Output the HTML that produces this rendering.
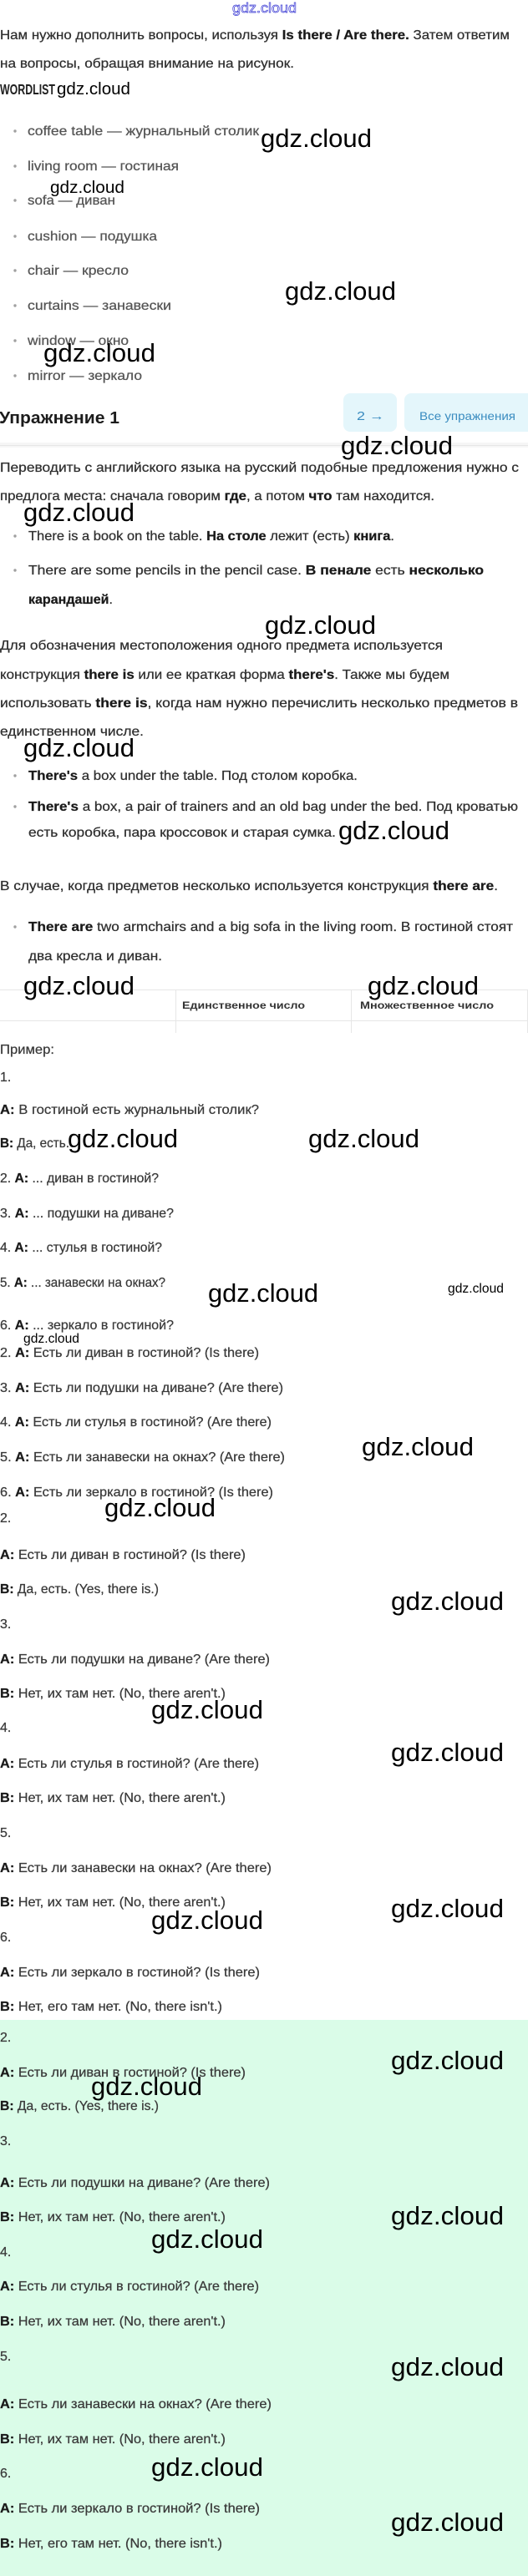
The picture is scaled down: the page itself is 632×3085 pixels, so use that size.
<!DOCTYPE html>
<html lang="ru">
<head>
<meta charset="utf-8">
<title>Упражнение 1</title>
<style>
html,body{margin:0;padding:0;background:#fff;}
body{width:632px;height:3085px;overflow:hidden;}
svg{display:block;font-family:"Liberation Sans","DejaVu Sans",sans-serif;}
.p{font-size:16px;fill:#2f2f2f;stroke:#2f2f2f;stroke-width:0.25px;}
.g{font-size:16px;fill:#555;stroke:#555;stroke-width:0.25px;}
.q{font-size:16px;fill:#3a3a3a;stroke:#3a3a3a;stroke-width:0.25px;}
.b{font-weight:bold;fill:#1a1a1a;stroke:#1a1a1a;}
.wm{font-size:31px;fill:#000;}
.ws{font-size:20.5px;fill:#000;}
.wt{font-size:15.6px;fill:#000;}
.dot{fill:#a0a0a0;}
</style>
</head>
<body>
<svg width="632" height="3085" viewBox="0 0 632 3085" xmlns="http://www.w3.org/2000/svg">
<rect x="0" y="0" width="632" height="3085" fill="#fff"/>
<!-- green answer block -->
<rect x="0" y="2419" width="632" height="666" fill="#dafce8"/>

<!-- top logo -->
<text x="278" y="15" font-size="17" fill="none" stroke="#3c3cd4" stroke-width="0.7" textLength="77" lengthAdjust="spacingAndGlyphs">gdz.cloud</text>

<!-- intro -->
<text class="p" x="0" y="47" textLength="610" lengthAdjust="spacingAndGlyphs">Нам нужно дополнить вопросы, используя <tspan class="b">Is there / Are there.</tspan> Затем ответим</text>
<text class="p" x="0" y="81" textLength="352" lengthAdjust="spacingAndGlyphs">на вопросы, обращая внимание на рисунок.</text>
<text x="0" y="113" font-size="17.5" font-weight="bold" fill="#222" textLength="66" lengthAdjust="spacingAndGlyphs">WORDLIST</text>

<!-- wordlist -->
<circle class="dot" cx="18" cy="157" r="1.7"/>
<text class="g" x="33" y="162" textLength="277" lengthAdjust="spacingAndGlyphs">coffee table — журнальный столик</text>
<circle class="dot" cx="18" cy="199" r="1.7"/>
<text class="g" x="33" y="204" textLength="181" lengthAdjust="spacingAndGlyphs">living room — гостиная</text>
<circle class="dot" cx="18" cy="240" r="1.7"/>
<text class="g" x="33" y="245" textLength="105" lengthAdjust="spacingAndGlyphs">sofa — диван</text>
<circle class="dot" cx="18" cy="283" r="1.7"/>
<text class="g" x="33" y="288" textLength="155" lengthAdjust="spacingAndGlyphs">cushion — подушка</text>
<circle class="dot" cx="18" cy="324" r="1.7"/>
<text class="g" x="33" y="329" textLength="121" lengthAdjust="spacingAndGlyphs">chair — кресло</text>
<circle class="dot" cx="18" cy="366" r="1.7"/>
<text class="g" x="33" y="371" textLength="172" lengthAdjust="spacingAndGlyphs">curtains — занавески</text>
<circle class="dot" cx="18" cy="408" r="1.7"/>
<text class="g" x="33" y="413" textLength="121" lengthAdjust="spacingAndGlyphs">window — окно</text>
<circle class="dot" cx="18" cy="450" r="1.7"/>
<text class="g" x="33" y="455" textLength="137" lengthAdjust="spacingAndGlyphs">mirror — зеркало</text>

<!-- heading + buttons -->
<text x="-1" y="507" font-size="20" font-weight="bold" fill="#1c1c1c" textLength="144" lengthAdjust="spacingAndGlyphs">Упражнение 1</text>
<rect x="411" y="471" width="64" height="46" rx="8" fill="#e4f6fb"/>
<rect x="484" y="471" width="156" height="46" rx="8" fill="#e4f6fb"/>
<text x="427" y="503" font-size="15" fill="#3a8cc0" textLength="33" lengthAdjust="spacingAndGlyphs">2 →</text>
<text x="502" y="503" font-size="14" fill="#3a8cc0" textLength="115" lengthAdjust="spacingAndGlyphs">Все упражнения</text>

<!-- divider -->
<rect x="0" y="530" width="632" height="6" fill="#f6f6f6"/>
<rect x="0" y="533" width="632" height="1" fill="#e6e6e6"/>

<!-- grammar -->
<text class="p" x="0" y="565" textLength="621" lengthAdjust="spacingAndGlyphs">Переводить с английского языка на русский подобные предложения нужно с</text>
<text class="p" x="0" y="599" textLength="520" lengthAdjust="spacingAndGlyphs">предлога места: сначала говорим <tspan class="b">где</tspan>, а потом <tspan class="b">что</tspan> там находится.</text>
<circle class="dot" cx="18" cy="642" r="1.7"/>
<text class="p" x="34" y="647" textLength="438" lengthAdjust="spacingAndGlyphs">There is a book on the table. <tspan class="b">На столе</tspan> лежит (есть) <tspan class="b">книга</tspan>.</text>
<circle class="dot" cx="18" cy="683" r="1.7"/>
<text class="p" x="34" y="688" textLength="545" lengthAdjust="spacingAndGlyphs">There are some pencils in the pencil case. <tspan class="b">В пенале</tspan> есть <tspan class="b">несколько</tspan></text>
<text class="p" x="34" y="723" textLength="101" lengthAdjust="spacingAndGlyphs"><tspan class="b">карандашей</tspan>.</text>
<text class="p" x="0" y="778" textLength="530" lengthAdjust="spacingAndGlyphs">Для обозначения местоположения одного предмета используется</text>
<text class="p" x="0" y="813" textLength="538" lengthAdjust="spacingAndGlyphs">конструкция <tspan class="b">there is</tspan> или ее краткая форма <tspan class="b">there's</tspan>. Также мы будем</text>
<text class="p" x="0" y="847" textLength="620" lengthAdjust="spacingAndGlyphs">использовать <tspan class="b">there is</tspan>, когда нам нужно перечислить несколько предметов в</text>
<text class="p" x="0" y="881" textLength="172" lengthAdjust="spacingAndGlyphs">единственном числе.</text>
<circle class="dot" cx="18" cy="929" r="1.7"/>
<text class="p" x="34" y="934" textLength="394" lengthAdjust="spacingAndGlyphs"><tspan class="b">There's</tspan> a box under the table. Под столом коробка.</text>
<circle class="dot" cx="18" cy="966" r="1.7"/>
<text class="p" x="34" y="971" textLength="586" lengthAdjust="spacingAndGlyphs"><tspan class="b">There's</tspan> a box, a pair of trainers and an old bag under the bed. Под кроватью</text>
<text class="p" x="34" y="1002" textLength="368" lengthAdjust="spacingAndGlyphs">есть коробка, пара кроссовок и старая сумка.</text>
<text class="p" x="0" y="1066" textLength="596" lengthAdjust="spacingAndGlyphs">В случае, когда предметов несколько используется конструкция <tspan class="b">there are</tspan>.</text>
<circle class="dot" cx="18" cy="1110" r="1.7"/>
<text class="p" x="34" y="1115" textLength="580" lengthAdjust="spacingAndGlyphs"><tspan class="b">There are</tspan> two armchairs and a big sofa in the living room. В гостиной стоят</text>
<text class="p" x="34" y="1150" textLength="160" lengthAdjust="spacingAndGlyphs">два кресла и диван.</text>

<!-- table -->
<rect x="0" y="1185" width="632" height="1" fill="#e6e6e6"/>
<rect x="0" y="1222" width="632" height="1" fill="#e6e6e6"/>
<rect x="210" y="1185" width="1" height="52" fill="#e6e6e6"/>
<rect x="420" y="1185" width="1" height="52" fill="#e6e6e6"/>
<rect x="631" y="1185" width="1" height="52" fill="#e6e6e6"/>
<text x="218" y="1208" font-size="12" font-weight="bold" fill="#333" textLength="147" lengthAdjust="spacingAndGlyphs">Единственное число</text>
<text x="431" y="1208" font-size="12" font-weight="bold" fill="#333" textLength="160" lengthAdjust="spacingAndGlyphs">Множественное число</text>

<text class="q" x="0" y="1262" textLength="65" lengthAdjust="spacingAndGlyphs">Пример:</text>
<text class="q" x="0" y="1295">1.</text>

<!-- questions -->
<text class="q" x="0" y="1334" textLength="310" lengthAdjust="spacingAndGlyphs"><tspan class="b">A:</tspan> В гостиной есть журнальный столик?</text>
<text class="q" x="0" y="1374" textLength="83" lengthAdjust="spacingAndGlyphs"><tspan class="b">B:</tspan> Да, есть.</text>
<text class="q" x="0" y="1416" textLength="190" lengthAdjust="spacingAndGlyphs">2. <tspan class="b">A:</tspan> ... диван в гостиной?</text>
<text class="q" x="0" y="1458" textLength="208" lengthAdjust="spacingAndGlyphs">3. <tspan class="b">A:</tspan> ... подушки на диване?</text>
<text class="q" x="0" y="1499" textLength="194" lengthAdjust="spacingAndGlyphs">4. <tspan class="b">A:</tspan> ... стулья в гостиной?</text>
<text class="q" x="0" y="1541" textLength="198" lengthAdjust="spacingAndGlyphs">5. <tspan class="b">A:</tspan> ... занавески на окнах?</text>
<text class="q" x="0" y="1592" textLength="208" lengthAdjust="spacingAndGlyphs">6. <tspan class="b">A:</tspan> ... зеркало в гостиной?</text>
<text class="q" x="0" y="1625" textLength="310" lengthAdjust="spacingAndGlyphs">2. <tspan class="b">A:</tspan> Есть ли диван в гостиной? (Is there)</text>
<text class="q" x="0" y="1667" textLength="339" lengthAdjust="spacingAndGlyphs">3. <tspan class="b">A:</tspan> Есть ли подушки на диване? (Are there)</text>
<text class="q" x="0" y="1708" textLength="325" lengthAdjust="spacingAndGlyphs">4. <tspan class="b">A:</tspan> Есть ли стулья в гостиной? (Are there)</text>
<text class="q" x="0" y="1750" textLength="341" lengthAdjust="spacingAndGlyphs">5. <tspan class="b">A:</tspan> Есть ли занавески на окнах? (Are there)</text>
<text class="q" x="0" y="1792" textLength="327" lengthAdjust="spacingAndGlyphs">6. <tspan class="b">A:</tspan> Есть ли зеркало в гостиной? (Is there)</text>

<!-- answers (white) -->
<text class="q" x="0" y="1823">2.</text>
<text class="q" x="0" y="1867" textLength="294" lengthAdjust="spacingAndGlyphs"><tspan class="b">A:</tspan> Есть ли диван в гостиной? (Is there)</text>
<text class="q" x="0" y="1908" textLength="190" lengthAdjust="spacingAndGlyphs"><tspan class="b">B:</tspan> Да, есть. (Yes, there is.)</text>
<text class="q" x="0" y="1950">3.</text>
<text class="q" x="0" y="1992" textLength="323" lengthAdjust="spacingAndGlyphs"><tspan class="b">A:</tspan> Есть ли подушки на диване? (Are there)</text>
<text class="q" x="0" y="2033" textLength="270" lengthAdjust="spacingAndGlyphs"><tspan class="b">B:</tspan> Нет, их там нет. (No, there aren't.)</text>
<text class="q" x="0" y="2074">4.</text>
<text class="q" x="0" y="2117" textLength="310" lengthAdjust="spacingAndGlyphs"><tspan class="b">A:</tspan> Есть ли стулья в гостиной? (Are there)</text>
<text class="q" x="0" y="2158" textLength="270" lengthAdjust="spacingAndGlyphs"><tspan class="b">B:</tspan> Нет, их там нет. (No, there aren't.)</text>
<text class="q" x="0" y="2200">5.</text>
<text class="q" x="0" y="2242" textLength="325" lengthAdjust="spacingAndGlyphs"><tspan class="b">A:</tspan> Есть ли занавески на окнах? (Are there)</text>
<text class="q" x="0" y="2283" textLength="270" lengthAdjust="spacingAndGlyphs"><tspan class="b">B:</tspan> Нет, их там нет. (No, there aren't.)</text>
<text class="q" x="0" y="2325">6.</text>
<text class="q" x="0" y="2367" textLength="311" lengthAdjust="spacingAndGlyphs"><tspan class="b">A:</tspan> Есть ли зеркало в гостиной? (Is there)</text>
<text class="q" x="0" y="2408" textLength="266" lengthAdjust="spacingAndGlyphs"><tspan class="b">B:</tspan> Нет, его там нет. (No, there isn't.)</text>

<!-- answers (green) -->
<text class="q" x="0" y="2445">2.</text>
<text class="q" x="0" y="2487" textLength="294" lengthAdjust="spacingAndGlyphs"><tspan class="b">A:</tspan> Есть ли диван в гостиной? (Is there)</text>
<text class="q" x="0" y="2527" textLength="190" lengthAdjust="spacingAndGlyphs"><tspan class="b">B:</tspan> Да, есть. (Yes, there is.)</text>
<text class="q" x="0" y="2569">3.</text>
<text class="q" x="0" y="2619" textLength="323" lengthAdjust="spacingAndGlyphs"><tspan class="b">A:</tspan> Есть ли подушки на диване? (Are there)</text>
<text class="q" x="0" y="2660" textLength="270" lengthAdjust="spacingAndGlyphs"><tspan class="b">B:</tspan> Нет, их там нет. (No, there aren't.)</text>
<text class="q" x="0" y="2702">4.</text>
<text class="q" x="0" y="2743" textLength="310" lengthAdjust="spacingAndGlyphs"><tspan class="b">A:</tspan> Есть ли стулья в гостиной? (Are there)</text>
<text class="q" x="0" y="2785" textLength="270" lengthAdjust="spacingAndGlyphs"><tspan class="b">B:</tspan> Нет, их там нет. (No, there aren't.)</text>
<text class="q" x="0" y="2827">5.</text>
<text class="q" x="0" y="2884" textLength="325" lengthAdjust="spacingAndGlyphs"><tspan class="b">A:</tspan> Есть ли занавески на окнах? (Are there)</text>
<text class="q" x="0" y="2926" textLength="270" lengthAdjust="spacingAndGlyphs"><tspan class="b">B:</tspan> Нет, их там нет. (No, there aren't.)</text>
<text class="q" x="0" y="2967">6.</text>
<text class="q" x="0" y="3009" textLength="311" lengthAdjust="spacingAndGlyphs"><tspan class="b">A:</tspan> Есть ли зеркало в гостиной? (Is there)</text>
<text class="q" x="0" y="3051" textLength="266" lengthAdjust="spacingAndGlyphs"><tspan class="b">B:</tspan> Нет, его там нет. (No, there isn't.)</text>

<!-- watermarks -->
<text class="ws" x="68" y="113" textLength="88" lengthAdjust="spacingAndGlyphs">gdz.cloud</text>
<text class="wm" x="312" y="176" textLength="133" lengthAdjust="spacingAndGlyphs">gdz.cloud</text>
<text class="ws" x="60" y="231" textLength="89" lengthAdjust="spacingAndGlyphs">gdz.cloud</text>
<text class="wm" x="341" y="359" textLength="133" lengthAdjust="spacingAndGlyphs">gdz.cloud</text>
<text class="wm" x="52" y="433" textLength="134" lengthAdjust="spacingAndGlyphs">gdz.cloud</text>
<text class="wm" x="408" y="544" textLength="134" lengthAdjust="spacingAndGlyphs">gdz.cloud</text>
<text class="wm" x="28" y="624" textLength="133" lengthAdjust="spacingAndGlyphs">gdz.cloud</text>
<text class="wm" x="317" y="759" textLength="133" lengthAdjust="spacingAndGlyphs">gdz.cloud</text>
<text class="wm" x="28" y="906" textLength="133" lengthAdjust="spacingAndGlyphs">gdz.cloud</text>
<text class="wm" x="405" y="1005" textLength="133" lengthAdjust="spacingAndGlyphs">gdz.cloud</text>
<text class="wm" x="28" y="1191" textLength="133" lengthAdjust="spacingAndGlyphs">gdz.cloud</text>
<text class="wm" x="440" y="1191" textLength="133" lengthAdjust="spacingAndGlyphs">gdz.cloud</text>
<text class="wm" x="81" y="1374" textLength="132" lengthAdjust="spacingAndGlyphs">gdz.cloud</text>
<text class="wm" x="369" y="1374" textLength="133" lengthAdjust="spacingAndGlyphs">gdz.cloud</text>
<text class="wm" x="249" y="1559" textLength="132" lengthAdjust="spacingAndGlyphs">gdz.cloud</text>
<text class="wt" x="536" y="1548" textLength="67" lengthAdjust="spacingAndGlyphs">gdz.cloud</text>
<text class="wt" x="28" y="1608" textLength="67" lengthAdjust="spacingAndGlyphs">gdz.cloud</text>
<text class="wm" x="433" y="1743" textLength="134" lengthAdjust="spacingAndGlyphs">gdz.cloud</text>
<text class="wm" x="125" y="1816" textLength="133" lengthAdjust="spacingAndGlyphs">gdz.cloud</text>
<text class="wm" x="468" y="1928" textLength="135" lengthAdjust="spacingAndGlyphs">gdz.cloud</text>
<text class="wm" x="181" y="2058" textLength="134" lengthAdjust="spacingAndGlyphs">gdz.cloud</text>
<text class="wm" x="468" y="2109" textLength="135" lengthAdjust="spacingAndGlyphs">gdz.cloud</text>
<text class="wm" x="468" y="2296" textLength="135" lengthAdjust="spacingAndGlyphs">gdz.cloud</text>
<text class="wm" x="181" y="2310" textLength="134" lengthAdjust="spacingAndGlyphs">gdz.cloud</text>
<text class="wm" x="468" y="2478" textLength="135" lengthAdjust="spacingAndGlyphs">gdz.cloud</text>
<text class="wm" x="109" y="2509" textLength="133" lengthAdjust="spacingAndGlyphs">gdz.cloud</text>
<text class="wm" x="468" y="2664" textLength="135" lengthAdjust="spacingAndGlyphs">gdz.cloud</text>
<text class="wm" x="181" y="2692" textLength="134" lengthAdjust="spacingAndGlyphs">gdz.cloud</text>
<text class="wm" x="468" y="2845" textLength="135" lengthAdjust="spacingAndGlyphs">gdz.cloud</text>
<text class="wm" x="181" y="2965" textLength="134" lengthAdjust="spacingAndGlyphs">gdz.cloud</text>
<text class="wm" x="468" y="3031" textLength="135" lengthAdjust="spacingAndGlyphs">gdz.cloud</text>
</svg>
</body>
</html>
